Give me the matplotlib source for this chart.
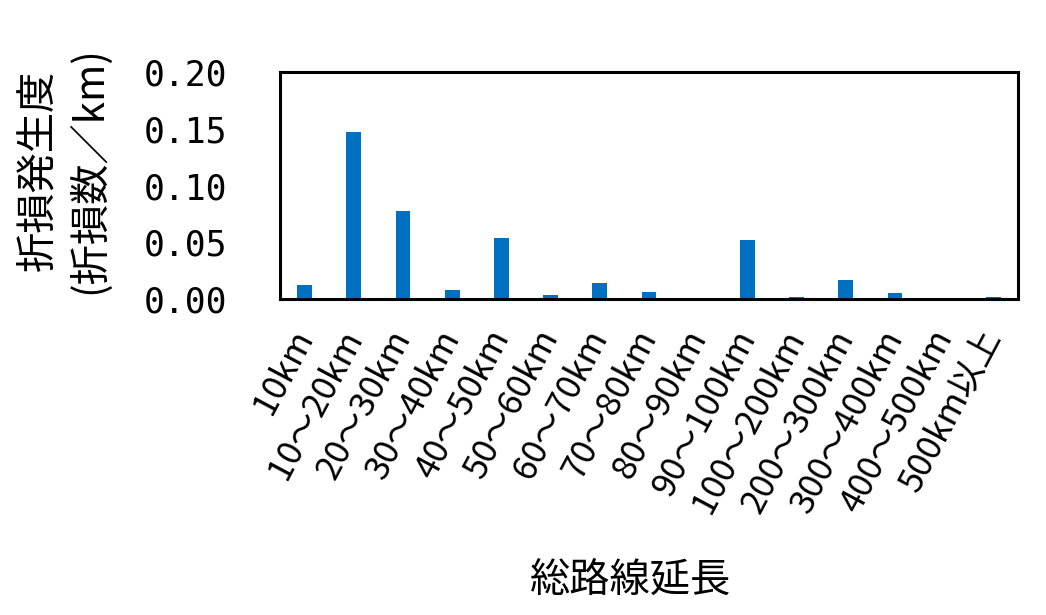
import matplotlib
matplotlib.use("Agg")
import matplotlib.pyplot as plt
import numpy as np

plt.rcParams['font.family'] = ['Noto Sans CJK JP', 'DejaVu Sans']

categories = ["10km", "10～20km", "20～30km", "30～40km", "40～50km", "50～60km",
              "60～70km", "70～80km", "80～90km", "90～100km", "100～200km",
              "200～300km", "300～400km", "400～500km", "500km以上"]
values = [0.0125, 0.1468, 0.0771, 0.0082, 0.0541, 0.0038, 0.0144, 0.0065,
          0.0, 0.0524, 0.0021, 0.0171, 0.0056, 0.0, 0.0021]
yticks = [0.00, 0.05, 0.10, 0.15, 0.20]
ytick_labels = ["0.00", "0.05", "0.10", "0.15", "0.20"]
ylabel = "折損発生度\n(折損数／km)"
xlabel = "総路線延長"

fig = plt.figure(figsize=(10.46, 6.15), dpi=100)
ax = fig.add_axes([280/1046, 1-299/615, (1018-280)/1046, (299-72)/615])

x = np.arange(len(categories))
ax.bar(x, values, width=0.3, color="#0070C0")
ax.set_xlim(-0.5, len(categories)-0.5)
ax.set_ylim(0, 0.20)
ax.set_yticks(yticks)
ax.set_yticklabels(ytick_labels, family=['DejaVu Sans Mono'], fontsize=25)
ax.set_xticks(x)
ax.set_xticklabels(categories, rotation=62, ha='right', va='center',
                   rotation_mode='anchor', fontsize=25)
ax.tick_params(axis='both', length=0)
ax.tick_params(axis='y', pad=38)
ax.tick_params(axis='x', pad=24)
for s in ax.spines.values():
    s.set_linewidth(2.2)
    s.set_color('black')

fig.text(64/1046, 1-170/615, ylabel, rotation=90, ha='center', va='center',
         fontsize=29, linespacing=1.3, multialignment='center')
fig.text(631/1046, 1-580/615, xlabel, ha='center', va='center', fontsize=29)

fig.savefig("out.png", dpi=100)
